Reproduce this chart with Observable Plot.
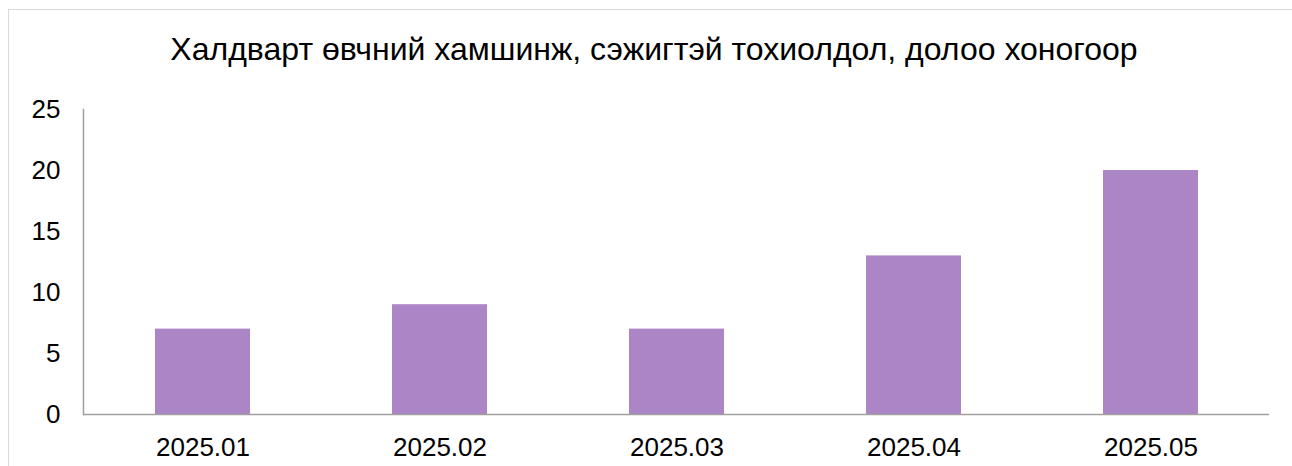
<!DOCTYPE html>
<html>
<head>
<meta charset="utf-8">
<script src="https://cdn.jsdelivr.net/npm/d3@7"></script>
<script src="https://cdn.jsdelivr.net/npm/@observablehq/plot@0.6"></script>
<style>
  html, body { margin: 0; padding: 0; background: #fff; overflow: hidden; }
  #wrap { position: relative; width: 1292px; height: 466px; overflow: hidden; font-family: "Liberation Sans", Arial, sans-serif; }
  #frame { position: absolute; left: 8px; top: 9px; width: 1400px; height: 600px; border: 1.5px solid #d9d9d9; box-sizing: border-box; }
  #title { position: absolute; left: 0; top: 0; width: 1292px; height: 90px; text-align: center; font-size: 32px; line-height: 32px; padding-top: 33px; padding-left: 16px; box-sizing: border-box; color: #000; white-space: nowrap; }
  #chart { position: absolute; left: 0; top: 90px; }
</style>
</head>
<body>
<div id="wrap">
  <div id="frame"></div>
  <div id="title">Халдварт өвчний хамшинж, сэжигтэй тохиолдол, долоо хоногоор</div>
  <div id="chart"></div>
</div>
<script>
const categories = ["2025.01", "2025.02", "2025.03", "2025.04", "2025.05"];
const values = [7, 9, 7, 13, 20];
const yTicks = [0, 5, 10, 15, 20, 25];

const data = categories.map((c, i) => ({ week: c, value: values[i] }));

const plot = Plot.plot({
  width: 1292,
  height: 376,
  marginTop: 19,
  marginBottom: 52,
  marginLeft: 83,
  marginRight: 23,
  style: { fontFamily: "Liberation Sans, Arial, sans-serif", fontSize: "26px", color: "#000", background: "transparent" },
  x: { domain: categories, paddingInner: 0.6, paddingOuter: 0.3, label: null },
  y: { domain: [0, 25], ticks: yTicks, label: null },
  marks: [
    Plot.barY(data, { x: "week", y: "value", fill: "#ac85c6" }),
    Plot.axisX({ tickSize: 0, tickPadding: 23, fill: "#000", label: null, fontSize: 26 }),
    Plot.axisY({ ticks: yTicks, tickSize: 0, tickPadding: 23, fill: "#000", label: null, fontSize: 26 }),
    Plot.frame({ anchor: "left", stroke: "#a0a0a0", strokeWidth: 1.5, strokeOpacity: 1 }),
    Plot.ruleY([0], { stroke: "#a0a0a0", strokeWidth: 1.5 })
  ]
});
document.getElementById("chart").appendChild(plot);
</script>
</body>
</html>
